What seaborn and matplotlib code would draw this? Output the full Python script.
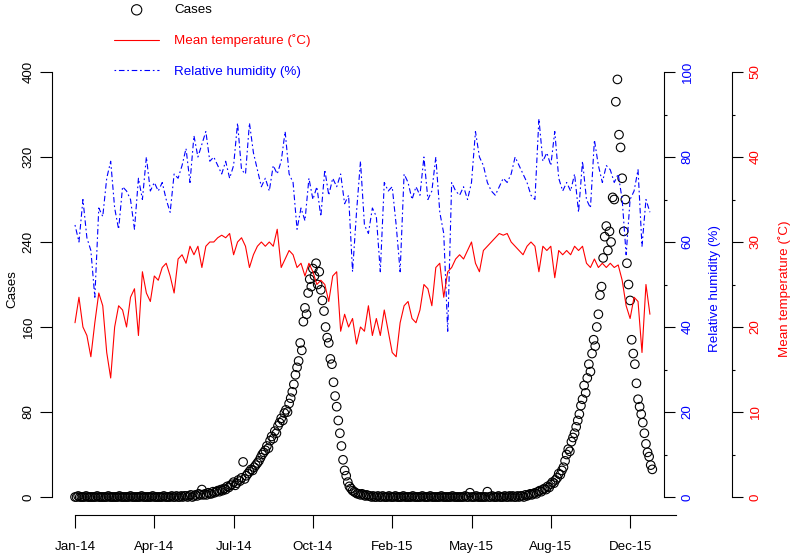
import numpy as np
import pandas as pd
import matplotlib
matplotlib.use("Agg")
import matplotlib.pyplot as plt
import matplotlib.dates as mdates
import seaborn as sns

# ---------------- data ----------------
start_date = "2014-01-01"
case_step_days = 2
weather_step_days = 5

# daily cases, read every 2 days (2014-01-01 ... 2015-12-30)
cases = [
    0, 0, 1, 0, 0, 0, 0, 1, 0, 0,
    0, 0, 0, 0, 1, 0, 0, 0, 0, 0,
    0, 1, 0, 0, 0, 0, 0, 0, 1, 0,
    0, 0, 0, 0, 0, 1, 0, 0, 0, 0,
    0, 0, 1, 0, 0, 0, 0, 0, 0, 1,
    0, 0, 0, 0, 0, 0, 1, 0, 0, 0,
    0, 1, 0, 0, 1, 0, 0, 1, 0, 1,
    1, 0, 1, 2, 0, 1, 2, 1, 3, 2,
    7, 2, 3, 2, 4, 3, 3, 5, 4, 5,
    6, 5, 7, 6, 8, 7, 10, 9, 11, 12,
    14, 11, 13, 16, 15, 18, 33, 17, 20, 22,
    24, 26, 25, 28, 30, 32, 34, 37, 40, 42,
    44, 48, 46, 53, 57, 55, 62, 60, 67, 70,
    74, 72, 79, 82, 80, 88, 93, 99, 106, 115,
    122, 128, 145, 138, 165, 178, 172, 192, 205, 198,
    215, 208, 220, 200, 212, 195, 185, 175, 160, 150,
    145, 130, 125, 108, 95, 85, 72, 60, 48, 35,
    25, 20, 14, 10, 8, 6, 5, 4, 3, 3,
    2, 3, 2, 1, 2, 1, 1, 0, 1, 0,
    0, 1, 0, 0, 1, 0, 0, 0, 1, 0,
    0, 0, 1, 0, 0, 0, 0, 1, 0, 0,
    0, 0, 0, 1, 0, 0, 0, 0, 0, 1,
    0, 0, 0, 0, 1, 0, 0, 0, 0, 0,
    0, 1, 0, 0, 0, 0, 0, 0, 1, 0,
    0, 0, 0, 0, 0, 0, 1, 0, 0, 4,
    0, 0, 0, 1, 0, 0, 0, 0, 0, 0,
    5, 0, 0, 1, 0, 0, 0, 1, 0, 0,
    0, 1, 0, 0, 1, 0, 1, 0, 0, 1,
    0, 1, 1, 0, 2, 1, 2, 3, 2, 3,
    4, 3, 5, 6, 5, 7, 8, 7, 10, 9,
    12, 14, 13, 16, 18, 22, 21, 25, 28, 34,
    40, 45, 43, 52, 56, 60, 66, 72, 78, 86,
    92, 105, 98, 112, 125, 118, 135, 148, 142, 160,
    172, 190, 198, 225, 245, 255, 232, 250, 240, 282,
    280, 372, 393, 341, 329, 300, 250, 280, 220, 200,
    185, 148, 135, 125, 107, 92, 85, 78, 70, 60,
    50, 42, 38, 30, 26,
]

# mean temperature (deg C), read every 5 days
temperature = [
    20.5, 23.5, 20.0, 19.0, 16.5, 20.5, 24.0, 22.5, 17.0, 14.0,
    20.0, 22.5, 22.0, 20.0, 23.5, 24.5, 19.0, 26.5, 24.0, 23.0,
    26.0, 25.5, 27.0, 27.5, 26.0, 24.0, 28.0, 28.5, 27.5, 29.5,
    28.5, 29.5, 27.0, 29.5, 30.0, 30.0, 30.5, 30.8, 30.5, 31.0,
    28.5, 30.0, 30.5, 29.5, 27.0, 28.5, 29.5, 30.0, 29.5, 30.0,
    29.5, 31.5, 27.0, 28.0, 29.0, 28.5, 27.0, 27.5, 26.0, 27.5,
    26.5, 25.0, 25.5, 25.0, 23.0, 26.0, 26.5, 19.5, 21.5, 20.0,
    21.0, 18.0, 20.0, 19.5, 22.5, 19.0, 21.0, 19.0, 22.0, 19.5,
    17.0, 16.5, 20.5, 22.5, 23.0, 21.0, 20.5, 22.0, 25.0, 24.5,
    22.5, 27.0, 27.5, 23.5, 26.5, 27.0, 28.0, 28.5, 28.0, 29.0,
    30.0, 27.5, 26.5, 29.0, 29.5, 30.0, 30.5, 31.0, 30.8, 31.0,
    30.0, 29.5, 29.0, 28.5, 29.5, 30.0, 29.5, 26.5, 29.5, 29.0,
    29.5, 25.8, 29.0, 28.5, 29.0, 28.5, 29.5, 29.0, 29.5, 27.5,
    27.0, 28.0, 27.0, 27.5, 27.0, 27.5, 27.0, 27.3, 25.5, 22.5,
    21.0, 23.5, 23.0, 17.0, 25.0, 21.5,
]

# relative humidity (%), read every 5 days
humidity = [
    64, 60, 70, 61, 58, 47, 68, 66, 75, 79,
    68, 63, 73, 72, 70, 63, 75, 70, 80, 72,
    74, 72, 74, 70, 67, 76, 75, 78, 82, 74,
    85, 80, 83, 86, 79, 80, 78, 76, 79, 75,
    78, 88, 77, 76, 88, 81, 77, 73, 75, 72,
    78, 76, 79, 86, 76, 74, 63, 68, 65, 75,
    70, 73, 66, 77, 71, 75, 73, 76, 69, 71,
    53, 67, 79, 64, 62, 68, 66, 53, 74, 72,
    73, 64, 53, 76, 74, 70, 73, 71, 80, 70,
    72, 80, 67, 62, 39, 74, 72, 71, 73, 70,
    74, 86, 80, 78, 74, 72, 71, 73, 75, 74,
    76, 80, 78, 76, 74, 71, 70, 89, 79, 81,
    78, 86, 75, 72, 74, 72, 76, 67, 79, 70,
    68, 84, 78, 74, 78, 77, 74, 76, 70, 57,
    70, 72, 77, 59, 70, 67,
]

tick_labels = ["Jan-14", "Apr-14", "Jul-14", "Oct-14", "Feb-15", "May-15", "Aug-15", "Dec-15"]
tick_step_days = 100

df_cases = pd.DataFrame({
    "date": pd.date_range(start_date, periods=len(cases), freq=f"{case_step_days}D"),
    "cases": cases,
})
df_weather = pd.DataFrame({
    "date": pd.date_range(start_date, periods=len(temperature), freq=f"{weather_step_days}D"),
    "temperature": temperature,
    "humidity": humidity,
})

# ---------------- style ----------------
sns.set_theme(style="white")
plt.rcParams["font.family"] = ["Liberation Sans", "DejaVu Sans"]
for k in ["text.color", "axes.labelcolor", "xtick.color", "ytick.color", "axes.edgecolor"]:
    plt.rcParams[k] = "black"
plt.rcParams["axes.linewidth"] = 0.8

FS = 9.6
W, H = 792, 554
fig = plt.figure(figsize=(W / 100, H / 100), dpi=100)
ax_l, ax_r, ax_b, ax_t = 52, 676, 515, 63
ax = fig.add_axes([ax_l / W, 1 - ax_b / H, (ax_r - ax_l) / W, (ax_b - ax_t) / H])
ax.set_facecolor("none")

d0 = pd.Timestamp(start_date)
px_per_day = 0.793
xmin = d0 + pd.Timedelta(days=(ax_l - 75) / px_per_day)
xmax = d0 + pd.Timedelta(days=(ax_r - 75) / px_per_day)

px_per_case = 1.0625
ymin_c = (497 - ax_b) / px_per_case
ymax_c = (497 - ax_t) / px_per_case

# cases scatter
sns.scatterplot(data=df_cases, x="date", y="cases", ax=ax, marker="o", s=38,
                facecolors="none", edgecolor="black", linewidth=0.8,
                label="Cases", legend=False, zorder=2)
ax.set_xlim(xmin, xmax)
ax.set_ylim(ymin_c, ymax_c)

# humidity axis
ax2 = ax.twinx()
sns.lineplot(data=df_weather, x="date", y="humidity", ax=ax2, color="#0000FF",
             linewidth=0.8, estimator=None, label="Relative humidity (%)", legend=False)
ax2.lines[0].set_linestyle((0, (1.5, 2.5, 5, 2.5)))
ax2.set_ylim(ymin_c / 4, ymax_c / 4)

# temperature axis
ax3 = ax.twinx()
sns.lineplot(data=df_weather, x="date", y="temperature", ax=ax3, color="#FF0000",
             linewidth=0.8, estimator=None, label="Mean temperature (˚C)", legend=False)
ax3.set_ylim(ymin_c / 8, ymax_c / 8)
ax3.set_xlim(xmin, xmax)

# ---------------- axes decoration ----------------
ticks = pd.date_range(start_date, periods=len(tick_labels), freq=f"{tick_step_days}D")
ax.set_xticks(ticks)
ax.set_xticklabels(tick_labels, fontsize=FS)
ax.set_xlabel("")
ax.set_yticks([0, 80, 160, 240, 320, 400])
ax.set_ylabel("Cases", fontsize=FS, labelpad=3)
ax.tick_params(axis="x", length=9.4, width=0.8, pad=9.5, direction="out", bottom=True)
ax.tick_params(axis="y", length=8.6, width=0.8, pad=4, direction="out", left=True,
               labelrotation=90, labelsize=FS)
for lab in ax.get_yticklabels():
    lab.set_va("center")
for s in ["top", "right"]:
    ax.spines[s].set_visible(False)
ax.spines["left"].set_bounds(0, 400)
ax.spines["bottom"].set_bounds(mdates.date2num(d0), mdates.date2num(xmax))

for a in (ax2, ax3):
    for s in ["top", "left", "bottom"]:
        a.spines[s].set_visible(False)
    a.grid(False)

ax2.spines["right"].set_position(("axes", (664 - ax_l) / (ax_r - ax_l)))
ax2.spines["right"].set_bounds(0, 100)
ax2.set_yticks([0, 20, 40, 60, 80, 100])
ax2.set_yticks([10, 30, 50, 70, 90], minor=True)
ax2.tick_params(axis="y", which="major", length=7.7, width=0.8, pad=5, colors="black",
                labelcolor="#0000FF", labelrotation=90, labelsize=FS, right=True)
ax2.tick_params(axis="y", which="minor", length=2, width=0.8, right=True, colors="black")
for lab in ax2.get_yticklabels():
    lab.set_va("center")
ax2.set_ylabel("Relative humidity (%)", color="#0000FF", fontsize=FS, labelpad=11)

ax3.spines["right"].set_position(("axes", (732 - ax_l) / (ax_r - ax_l)))
ax3.spines["right"].set_bounds(0, 50)
ax3.set_yticks([0, 10, 20, 30, 40, 50])
ax3.set_yticks([5, 15, 25, 35, 45], minor=True)
ax3.tick_params(axis="y", which="major", length=7.7, width=0.8, pad=5, colors="black",
                labelcolor="#FF0000", labelrotation=90, labelsize=FS, right=True)
ax3.tick_params(axis="y", which="minor", length=2, width=0.8, right=True, colors="black")
for lab in ax3.get_yticklabels():
    lab.set_va("center")
ax3.set_ylabel("Mean temperature (˚C)", color="#FF0000", fontsize=FS, labelpad=12)

for a in (ax2, ax3):
    a.set_xlabel("")
    a.tick_params(axis="x", bottom=False, top=False, labelbottom=False)

# ---------------- legend ----------------
handles = [ax.collections[0], ax3.lines[0], ax2.lines[0]]
labels = ["Cases", "Mean temperature (˚C)", "Relative humidity (%)"]
leg = fig.legend(handles, labels, loc="upper left",
                 bbox_to_anchor=(102 / W, 1 + 8 / H), frameon=False,
                 fontsize=FS, handlelength=3.4, handletextpad=1.1,
                 labelspacing=1.35, scatterpoints=1, markerscale=1.2,
                 labelcolor=["black", "#FF0000", "#0000FF"])

fig.savefig("out.png", dpi=100)
